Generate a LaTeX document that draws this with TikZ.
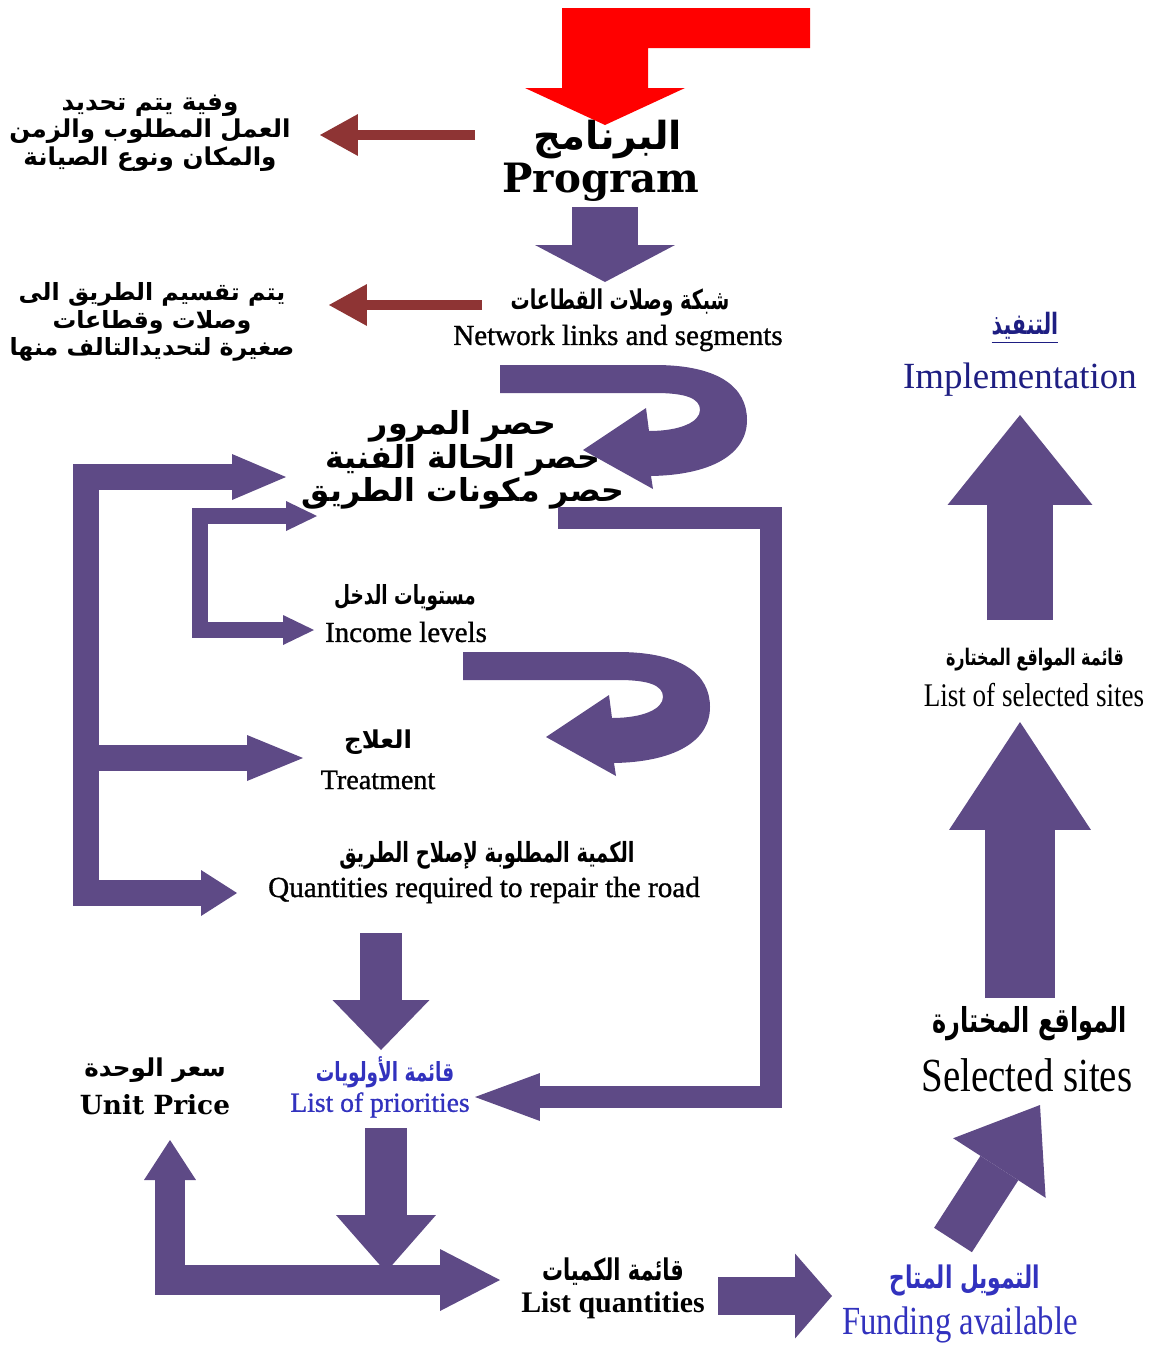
\documentclass[tikz,border=0pt]{standalone}
\usepackage{fontspec}
\setmainfont{Liberation Serif}
\newfontfamily\heavyserif[FakeBold=1]{Liberation Serif}
\newfontfamily\arabicfont[Script=Arabic]{DejaVu Sans}
\newfontfamily\arabicnarrow[Script=Arabic,FakeStretch=0.7]{DejaVu Sans}
\newfontfamily\wideserif{DejaVu Serif}
\newfontfamily\narrowserif[FakeStretch=0.82]{Liberation Serif}
\TeXXeTstate=1
\usetikzlibrary{arrows.meta,calc,positioning}
\definecolor{flowc}{RGB}{94,74,134}
\definecolor{notec}{RGB}{142,52,52}
\definecolor{startc}{RGB}{255,0,0}
\definecolor{navyc}{RGB}{30,30,130}
\definecolor{bluec}{RGB}{50,50,190}
\newcommand{\arb}[1]{{\arabicfont\bfseries\beginR #1\endR}}
\newcommand{\arn}[1]{{\arabicnarrow\bfseries\beginR #1\endR}}

\begin{document}
\begin{tikzpicture}[x=0.02cm, y=-0.02cm,
	flow/.style={draw=flowc, line width=#1, line join=miter},
	fathead/.style 2 args={-{Triangle[length=#1,width=#2,line width=0pt]}},
	fatheads/.style n args={4}{{Triangle[length=#1,width=#2,line width=0pt]}-{Triangle[length=#3,width=#4,line width=0pt]}},
	note/.style={draw=notec, line width=0.2cm, -{Triangle[length=0.76cm,width=0.84cm,line width=0pt]}},
	lbl/.style={inner sep=0pt, align=center}]
\useasboundingbox (0,0) rectangle (1155,1346);

\node[lbl, font=\fontsize{14}{15.6}\selectfont] (work) at (150,133) {\arb{وفية يتم تحديد}\\\arb{العمل المطلوب والزمن}\\\arb{والمكان ونوع الصيانة}};
\node[lbl, font=\fontsize{22}{24}\selectfont] (prog ar) at (608,140) {\arb{البرنامج}};
\node[lbl, font=\wideserif\bfseries\fontsize{23}{26}\selectfont] (prog en) at (601,182) {Program};

\node[lbl, font=\fontsize{13.5}{15.6}\selectfont] (split) at (152,322) {\arb{يتم تقسيم  الطريق الى}\\\arb{وصلات وقطاعات}\\\arb{صغيرة لتحديدالتالف منها}};
\node[lbl, font=\fontsize{15.5}{17}\selectfont] (net ar) at (620,302) {\arn{شبكة وصلات القطاعات}};
\node[lbl, font=\heavyserif\fontsize{16.5}{19}\selectfont] (net en) at (618,338) {Network links and segments};

\node[lbl, font=\fontsize{18}{17}\selectfont] (survey) at (463,460) {\arb{حصر المرور}\\\arb{حصر الحالة الفنية}\\\arb{حصر مكونات الطريق}};
\node[lbl, font=\fontsize{15}{17}\selectfont] (income ar) at (405,598) {\arn{مستويات الدخل}};
\node[lbl, font=\heavyserif\fontsize{16.5}{19}\selectfont] (income en) at (406,632) {Income levels};
\node[lbl, font=\fontsize{14}{16}\selectfont] (treat ar) at (378,742) {\arb{العلاج}};
\node[lbl, font=\heavyserif\fontsize{16}{19}\selectfont] (treat en) at (378,780) {Treatment};
\node[lbl, font=\fontsize{15.8}{17}\selectfont] (quant ar) at (487,855) {\arn{الكمية المطلوبة لإصلاح الطريق}};
\node[lbl, font=\heavyserif\fontsize{16.6}{19}\selectfont] (quant en) at (484,890) {Quantities required to repair the road};

\node[lbl, font=\fontsize{15}{17}\selectfont, text=bluec] (prio ar) at (385,1072) {\arn{قائمة الأولويات}};
\node[lbl, font=\heavyserif\fontsize{15.7}{18}\selectfont, text=bluec] (prio en) at (380,1105) {List of priorities};
\node[lbl, font=\fontsize{14}{16}\selectfont] (unit ar) at (155,1070) {\arb{سعر الوحدة}};
\node[lbl, font=\wideserif\bfseries\fontsize{15}{18}\selectfont] (unit en) at (155,1105) {Unit Price};
\node[lbl, font=\fontsize{17}{19}\selectfont] (lq ar) at (613,1272) {\arn{قائمة الكميات}};
\node[lbl, font=\bfseries\fontsize{17}{20}\selectfont] (lq en) at (613,1305) {List quantities};
\node[lbl, font=\fontsize{17.7}{20}\selectfont, text=bluec] (fund ar) at (965,1280) {\arn{التمويل المتاح}};
\node[lbl, font=\narrowserif\fontsize{22.7}{26}\selectfont, text=bluec] (fund en) at (960,1325) {Funding available};

\node[lbl, font=\fontsize{16.7}{19}\selectfont, text=navyc] (impl ar) at (1025,328) {\underline{\arn{التنفيذ}}};
\node[lbl, font=\fontsize{21}{24}\selectfont, text=navyc] (impl en) at (1020,380) {Implementation};
\node[lbl, font=\fontsize{13}{15}\selectfont] (lsel ar) at (1035,660) {\arn{قائمة المواقع المختارة}};
\node[lbl, font=\narrowserif\fontsize{18.8}{21}\selectfont] (lsel en) at (1034,695) {List of selected sites};
\node[lbl, font=\fontsize{19.5}{22}\selectfont] (sel ar) at (1030,1024) {\arn{المواقع المختارة}};
\node[lbl, font=\narrowserif\fontsize{27}{30}\selectfont] (sel en) at (1027,1075) {Selected sites};

\coordinate (prog out) at (605,207);
\coordinate (net in) at (605,282);
\coordinate (work in) at (320,135);
\coordinate (work from) at (475,135);
\coordinate (split in) at (329,305);
\coordinate (split from) at (482,305);
\coordinate (net turn) at (500,365);
\coordinate (income turn) at (463,652);
\coordinate (outer top) at (286,477);
\coordinate (outer low) at (86,893);
\coordinate (outer mid) at (86,758);
\coordinate (outer treat) at (303,758);
\coordinate (outer quant) at (237,893);
\coordinate (inner top) at (317,516);
\coordinate (inner low) at (200,630);
\coordinate (inner income) at (314,630);
\coordinate (back start) at (558,518);
\coordinate (back low) at (771,1097);
\coordinate (prio back) at (475,1097);
\coordinate (quant out) at (381,933);
\coordinate (prio in) at (381,1050);
\coordinate (prio out) at (386,1128);
\coordinate (lq bar) at (386,1272);
\coordinate (unit in) at (170,1140);
\coordinate (lq in) at (500,1280);
\coordinate (lq out) at (718,1296);
\coordinate (fund in) at (832,1296);
\coordinate (fund out) at (953,1240);
\coordinate (sel in) at (1040,1105);
\coordinate (sel out) at (1020,998);
\coordinate (lsel in) at (1020,722);
\coordinate (lsel out) at (1020,620);
\coordinate (impl in) at (1020,415);

\fill[startc] (810,8) -| (562,88) -- (525,88) -- (605,125) -- (685,88) -- (648,88) |- (810,48) -- cycle;

\draw[note] (work from) -- (work in);
\draw[note] (split from) -- (split in);

\draw[flow=1.32cm, fathead={0.74cm}{2.8cm}] (prog out) -- (net in);
\fill[flowc, shift={(net turn)}] (0,0) -- (155,0) .. controls (220,0) and (247,23) .. (247,55)
	.. controls (247,90) and (210,110) .. (151,111) -- (153,124) -- (83,85) -- (146,43) -- (149,66)
	.. controls (180,66) and (200,57) .. (200,45) .. controls (200,33) and (185,28) .. (155,28) -- (0,28) -- cycle;
\fill[flowc, shift={(income turn)}] (0,0) -- (155,0) .. controls (220,0) and (247,23) .. (247,55)
	.. controls (247,90) and (210,110) .. (151,111) -- (153,124) -- (83,85) -- (146,43) -- (149,66)
	.. controls (180,66) and (200,57) .. (200,45) .. controls (200,33) and (185,28) .. (155,28) -- (0,28) -- cycle;
\draw[flow=0.52cm, fatheads={1.08cm}{0.92cm}{0.72cm}{0.92cm}] (outer top) -| (outer low) -- (outer quant);
\draw[flow=0.52cm, fathead={1.12cm}{0.92cm}] (outer mid) -- (outer treat);
\draw[flow=0.32cm, fatheads={0.62cm}{0.6cm}{0.62cm}{0.6cm}] (inner top) -| (inner low) -- (inner income);
\draw[flow=0.44cm, fathead={1.3cm}{0.96cm}] (back start) -| (back low) -- (prio back);
\draw[flow=0.84cm, fathead={1cm}{1.94cm}] (quant out) -- (prio in);
\draw[flow=0.86cm, fathead={1.14cm}{2cm}] (prio out) -- (lq bar);
\draw[flow=0.6cm, fatheads={0.8cm}{1.04cm}{1.2cm}{1.24cm}] (unit in) |- (lq in);
\draw[flow=0.76cm, fathead={0.74cm}{1.7cm}] (lq out) -- (fund in);
\draw[flow=0.9cm, fathead={1.5cm}{2.2cm}] (fund out) -- (sel in);
\draw[flow=1.4cm, fathead={2.16cm}{2.84cm}] (sel out) -- (lsel in);
\draw[flow=1.32cm, fathead={1.8cm}{2.9cm}] (lsel out) -- (impl in);
\end{tikzpicture}
\end{document}
